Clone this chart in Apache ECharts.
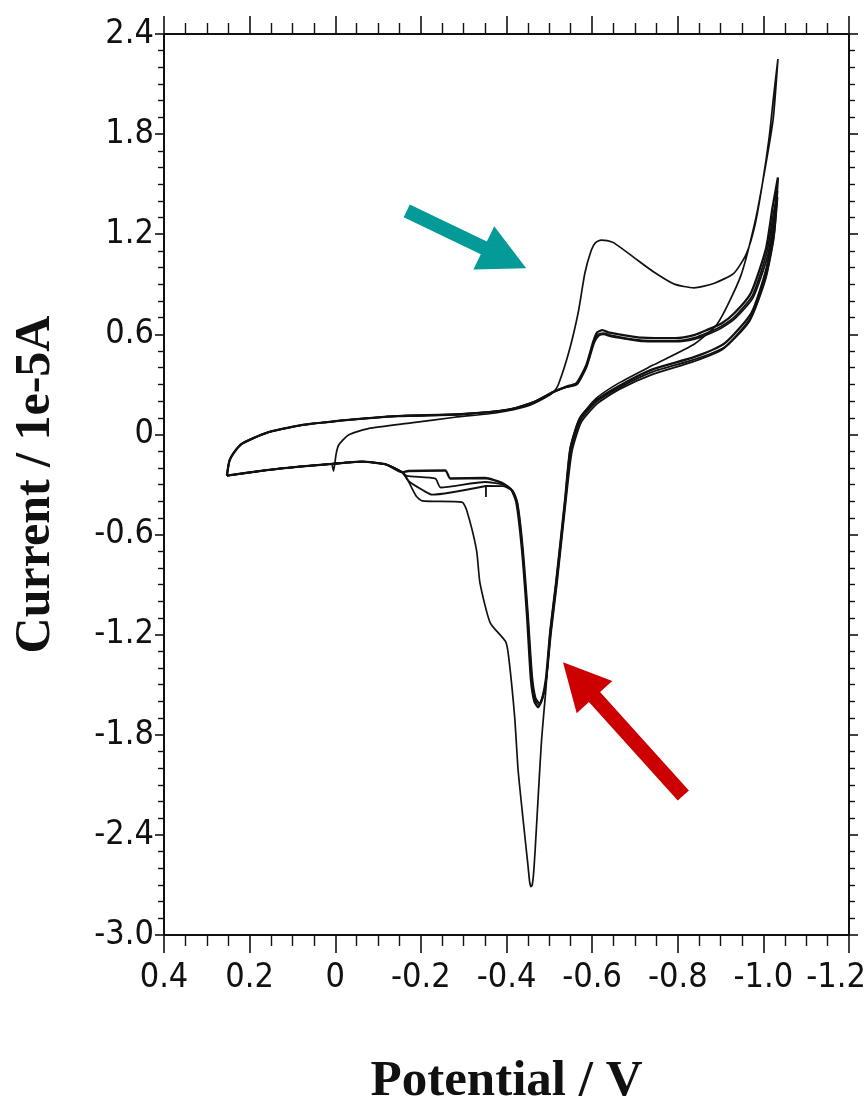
<!DOCTYPE html>
<html>
<head>
<meta charset="utf-8">
<script src="https://cdn.jsdelivr.net/npm/echarts@6/dist/echarts.min.js"></script>
<style>
html,body{margin:0;padding:0;background:#fff;}
#c{width:868px;height:1105px;}
</style>
</head>
<body>
<div id="c"></div>
<script>
// ---- axis ticks ----
var xTicks = [0.4, 0.2, 0, -0.2, -0.4, -0.6, -0.8, -1.0, -1.2];
var yTicks = [2.4, 1.8, 1.2, 0.6, 0, -0.6, -1.2, -1.8, -2.4, -3.0];

// ---- cyclic voltammogram scans: [potential V, current 1e-5 A] ----
var scan1 = [
[0.007,-0.184],[0.004,-0.22],[-0.002,-0.118],[-0.008,-0.063],[-0.031,-0.003],[-0.077,0.035],[-0.177,0.069],
[-0.279,0.103],[-0.378,0.13],[-0.448,0.169],[-0.489,0.219],[-0.510,0.255],[-0.521,0.298],[-0.546,0.497],
[-0.568,0.737],[-0.583,0.966],[-0.598,1.104],[-0.608,1.15],[-0.621,1.165],[-0.635,1.162],[-0.651,1.148],[-0.698,1.06],
[-0.745,0.972],[-0.792,0.901],[-0.838,0.879],[-0.884,0.905],[-0.931,0.966],[-0.960,1.081],[-0.980,1.25],
[-0.997,1.491],[-1.014,1.79],[-1.024,2.03],[-1.034,2.25],
[-1.023,1.893],[-1.004,1.593],[-0.982,1.292],[-0.947,0.949],[-0.893,0.665],[-0.840,0.544],[-0.741,0.414],
[-0.663,0.309],[-0.610,0.217],[-0.571,0.096],[-0.549,-0.085],[-0.537,-0.386],[-0.516,-0.884],[-0.502,-1.184],
[-0.492,-1.526],[-0.482,-1.827],[-0.475,-2.127],[-0.467,-2.487],[-0.463,-2.64],[-0.460,-2.70],[-0.457,-2.71],
[-0.454,-2.68],[-0.450,-2.58],[-0.438,-2.29],[-0.427,-2.008],[-0.419,-1.691],[-0.405,-1.332],[-0.398,-1.242],
[-0.362,-1.129],[-0.338,-0.89],[-0.33,-0.693],[-0.307,-0.454],[-0.296,-0.406],[-0.203,-0.398],[-0.189,-0.369],
[-0.167,-0.261],[-0.156,-0.226],[-0.118,-0.179],[-0.062,-0.163],[0.014,-0.178],[0.084,-0.193],[0.160,-0.214],
[0.253,-0.247]
];
var scan2 = [
[0.253,-0.247],[0.247,-0.157],[0.233,-0.096],[0.217,-0.054],[0.162,0.008],[0.085,0.053],[-0.031,0.087],
[-0.146,0.11],[-0.293,0.121],[-0.408,0.15],[-0.464,0.194],[-0.510,0.255],[-0.540,0.287],[-0.563,0.306],
[-0.586,0.414],[-0.603,0.559],[-0.612,0.612],[-0.624,0.625],[-0.640,0.61],[-0.670,0.597],[-0.717,0.58],[-0.794,0.577],
[-0.840,0.597],[-0.870,0.628],[-0.902,0.665],[-0.932,0.726],[-0.971,0.848],[-1.006,1.113],[-1.021,1.354],
[-1.034,1.54],
[-1.026,1.27],[-1.007,0.993],[-0.972,0.728],[-0.910,0.547],[-0.841,0.466],[-0.741,0.39],[-0.663,0.291],
[-0.610,0.205],[-0.571,0.096],[-0.549,-0.085],[-0.537,-0.386],[-0.516,-0.884],[-0.502,-1.184],[-0.492,-1.467],
[-0.483,-1.587],[-0.474,-1.635],[-0.465,-1.6],[-0.457,-1.468],[-0.448,-1.09],[-0.436,-0.688],[-0.423,-0.408],
[-0.411,-0.33],[-0.388,-0.289],[-0.350,-0.261],[-0.269,-0.264],[-0.257,-0.216],[-0.171,-0.219],[-0.156,-0.226],
[-0.118,-0.179],[-0.062,-0.163],[0.014,-0.178],[0.084,-0.193],[0.160,-0.214],[0.253,-0.247]
];
var scan3 = [
[0.253,-0.247],[0.247,-0.157],[0.233,-0.096],[0.217,-0.054],[0.162,0.008],[0.085,0.053],[-0.031,0.087],
[-0.146,0.11],[-0.293,0.121],[-0.408,0.15],[-0.464,0.194],[-0.510,0.255],[-0.540,0.285],[-0.563,0.302],
[-0.586,0.405],[-0.603,0.545],[-0.614,0.598],[-0.626,0.607],[-0.642,0.595],[-0.672,0.58],[-0.719,0.563],[-0.794,0.56],
[-0.840,0.58],[-0.870,0.61],[-0.902,0.648],[-0.935,0.71],[-0.975,0.835],[-1.008,1.09],[-1.022,1.3],
[-1.033,1.46],
[-1.025,1.2],[-1.006,0.95],[-0.97,0.7],[-0.91,0.525],[-0.84,0.45],[-0.741,0.375],[-0.663,0.28],[-0.610,0.195],
[-0.573,0.085],[-0.551,-0.09],[-0.538,-0.39],[-0.517,-0.89],[-0.503,-1.19],[-0.493,-1.46],[-0.485,-1.575],
[-0.476,-1.62],[-0.467,-1.59],[-0.459,-1.46],[-0.449,-1.08],[-0.437,-0.68],[-0.425,-0.41],[-0.413,-0.335],
[-0.39,-0.3],[-0.350,-0.285],[-0.246,-0.318],[-0.234,-0.265],[-0.167,-0.249],[-0.156,-0.226],[-0.118,-0.179],
[-0.062,-0.163],[0.014,-0.178],[0.084,-0.193],[0.160,-0.214],[0.253,-0.247]
];
var scan4 = [
[0.253,-0.247],[0.247,-0.157],[0.233,-0.096],[0.217,-0.054],[0.162,0.008],[0.085,0.053],[-0.031,0.087],
[-0.146,0.11],[-0.293,0.121],[-0.408,0.15],[-0.464,0.194],[-0.510,0.255],[-0.540,0.283],[-0.565,0.30],
[-0.588,0.41],[-0.605,0.55],[-0.616,0.592],[-0.627,0.6],[-0.643,0.588],[-0.673,0.575],[-0.72,0.558],[-0.794,0.556],
[-0.84,0.572],[-0.87,0.6],[-0.902,0.638],[-0.936,0.7],[-0.976,0.82],[-1.01,1.07],[-1.023,1.27],[-1.033,1.42],
[-1.024,1.17],[-1.005,0.93],[-0.968,0.68],[-0.905,0.51],[-0.835,0.435],[-0.741,0.36],[-0.663,0.27],
[-0.612,0.185],[-0.575,0.075],[-0.553,-0.1],[-0.539,-0.39],[-0.518,-0.89],[-0.504,-1.19],[-0.494,-1.45],
[-0.486,-1.56],[-0.477,-1.61],[-0.468,-1.58],[-0.46,-1.45],[-0.45,-1.07],[-0.438,-0.675],[-0.426,-0.415],
[-0.415,-0.34],[-0.392,-0.31],[-0.352,-0.309],[-0.352,-0.375],[-0.352,-0.309],[-0.226,-0.361],[-0.207,-0.338],
[-0.171,-0.279],[-0.156,-0.226],[-0.118,-0.179],[-0.062,-0.163],[0.014,-0.178],[0.084,-0.193],[0.160,-0.214],
[0.253,-0.247]
];

// ---- annotation arrows (tail, tip) in data units ----
var tealArrow = [[-0.167, 1.34], [-0.446, 0.996]];
var redArrow = [[-0.813, -2.164], [-0.532, -1.365]];

var tickFont = "'Liberation Sans Narrow','Arial Narrow','DejaVu Sans Condensed','Liberation Sans',sans-serif";
var titleFont = "'Liberation Serif','Times New Roman',serif";

function fmt(v) {
  var r = Math.round(v * 10) / 10;
  if (r === 0) return '0';
  return r.toFixed(1);
}
function fmtX(v) {
  var s = fmt(v);
  // keep the last label inside the canvas, as in the original
  if (Math.abs(v - xTicks[xTicks.length - 1]) < 1e-9) return '{e|' + s + '}';
  return s;
}

var chart = echarts.init(document.getElementById('c'), null, {renderer: 'canvas'});

var frameLine = {show: true, onZero: false, lineStyle: {color: '#111', width: 2}};

function xAxisCfg(pos, labels) {
  return {
    type: 'value', position: pos, inverse: true,
    min: xTicks[xTicks.length - 1], max: xTicks[0], interval: 0.2,
    axisLine: frameLine,
    axisTick: {show: true, inside: false, length: 18, lineStyle: {color: '#111', width: 1.6}},
    minorTick: {show: true, splitNumber: 4, length: 11, lineStyle: {color: '#111', width: 1.4}},
    splitLine: {show: false},
    axisLabel: labels ? {
      show: true, formatter: fmtX, fontFamily: tickFont, fontSize: 34, color: '#111', margin: 26,
      rich: {e: {fontFamily: tickFont, fontSize: 34, color: '#111', padding: [0, 26, 0, 0]}}
    } : {show: false},
    name: labels ? 'Potential / V' : '',
    nameLocation: 'middle', nameGap: 121,
    nameTextStyle: {fontFamily: titleFont, fontWeight: 'bold', fontSize: 51, color: '#111'}
  };
}
function yAxisCfg(pos, labels) {
  return {
    type: 'value', position: pos,
    min: yTicks[yTicks.length - 1], max: yTicks[0], interval: 0.6,
    axisLine: frameLine,
    axisTick: {show: true, inside: false, length: 9, lineStyle: {color: '#111', width: 1.6}},
    minorTick: {show: true, splitNumber: 6, length: 6, lineStyle: {color: '#111', width: 1.4}},
    splitLine: {show: false},
    axisLabel: labels ? {show: true, formatter: fmt, fontFamily: tickFont, fontSize: 34, color: '#111', margin: 10} : {show: false},
    name: labels ? 'Current / 1e-5A' : '',
    nameLocation: 'middle', nameGap: 103, nameRotate: 90,
    nameTextStyle: {fontFamily: titleFont, fontWeight: 'bold', fontSize: 50, color: '#111'}
  };
}

function scanSeries(data, w) {
  return {
    type: 'line', data: data, xAxisIndex: 0, yAxisIndex: 0,
    showSymbol: false, symbol: 'none', smooth: 0.2,
    lineStyle: {color: '#111', width: w}, z: 3
  };
}

chart.setOption({
  backgroundColor: '#fff',
  animation: false,
  grid: {left: 164, right: 19, top: 34, bottom: 170, containLabel: false, outerBoundsMode: 'none'},
  xAxis: [xAxisCfg('bottom', true), xAxisCfg('top', false)],
  yAxis: [yAxisCfg('left', true), yAxisCfg('right', false)],
  series: [
    scanSeries(scan1, 1.7),
    scanSeries(scan2, 2.3),
    scanSeries(scan3, 1.8),
    scanSeries(scan4, 1.8)
  ]
});

function arrowPolygon(arrow, shaftW, headLen, headW) {
  var a = chart.convertToPixel({xAxisIndex: 0, yAxisIndex: 0}, arrow[0]);
  var b = chart.convertToPixel({xAxisIndex: 0, yAxisIndex: 0}, arrow[1]);
  var dx = b[0] - a[0], dy = b[1] - a[1];
  var L = Math.sqrt(dx * dx + dy * dy);
  var ux = dx / L, uy = dy / L, nx = -uy, ny = ux;
  var bx = b[0] - ux * headLen, by = b[1] - uy * headLen;
  var hw = shaftW / 2, HW = headW / 2;
  return [
    [a[0] + nx * hw, a[1] + ny * hw],
    [bx + nx * hw, by + ny * hw],
    [bx + nx * HW, by + ny * HW],
    [b[0], b[1]],
    [bx - nx * HW, by - ny * HW],
    [bx - nx * hw, by - ny * hw],
    [a[0] - nx * hw, a[1] - ny * hw]
  ];
}

chart.setOption({
  graphic: [
    {type: 'polygon', shape: {points: arrowPolygon(tealArrow, 14, 47, 48)}, style: {fill: '#039a97'}, z: 10},
    {type: 'polygon', shape: {points: arrowPolygon(redArrow, 15, 47, 48)}, style: {fill: '#cc0000'}, z: 10}
  ]
});
</script>
</body>
</html>
